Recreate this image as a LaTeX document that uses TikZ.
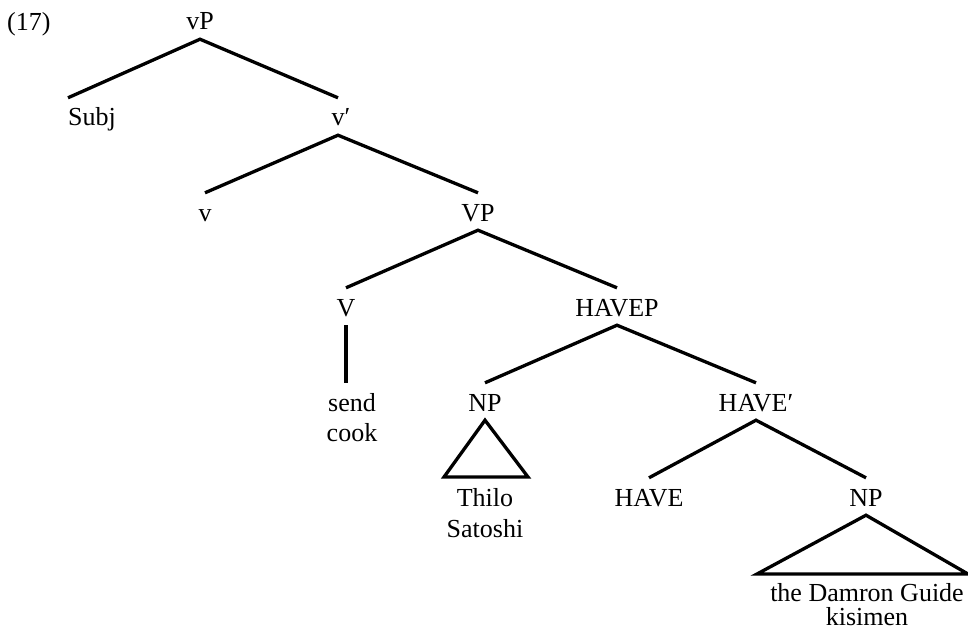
\documentclass[tikz,border=0pt]{standalone}
\usepackage{fontspec}
\setmainfont{Liberation Serif}
\begin{document}
\begin{tikzpicture}[x=1pt,y=-1pt,
  lab/.style={anchor=base, inner xsep=0pt, inner ysep=9pt, text height=19pt, text depth=0pt,
    font=\fontsize{26}{30}\selectfont},
  plain/.style={anchor=base, inner sep=0pt, font=\fontsize{26}{30}\selectfont},
  br/.style={line width=3.3pt},
]
\useasboundingbox (0,0) rectangle (968,631);
\node[plain, anchor=base west] (ex) at (7,31) {(17)};
\node[lab] (vP) at (200,30) {vP};
\node[lab, anchor=base west] (subj) at (68,126) {Subj};
\node[lab] (vbar) at (338,126) {v\rlap{′}};
\node[lab] (v) at (205,221) {v};
\node[lab] (VP) at (478,221) {VP};
\node[lab] (V) at (346,316) {V};
\node[lab] (havep) at (617,316) {HAVEP};
\node[lab] (send) at (352,411) {send};
\node[plain] (cook) at (352,441) {cook};
\node[lab] (np1) at (485,411) {NP};
\node[lab] (havebar) at (756,411) {HAVE′};
\node[lab] (thilo) at (485,506) {Thilo};
\node[plain] (satoshi) at (485,537) {Satoshi};
\node[lab] (have) at (649,506) {HAVE};
\node[lab] (np2) at (866,506) {NP};
\node[lab] (damron) at (867,601) {the Damron Guide};
\node[plain] (kisimen) at (867,625) {kisimen};
\coordinate (t1l) at (444,477);
\coordinate (t1r) at (528,477);
\coordinate (t2l) at (757,574);
\coordinate (t2r) at (968,574);

\draw[br] (subj.north west) -- (vP.south) -- (vbar.north);
\draw[br] (v.north) -- (vbar.south) -- (VP.north);
\draw[br] (V.north) -- (VP.south) -- (havep.north);
\draw[br] (V.south) -- (V.south |- send.north);
\draw[br] (np1.north) -- (havep.south) -- (havebar.north);
\draw[br] (have.north) -- (havebar.south) -- (np2.north);
\draw[br] (np1.south) -- (t1l) -- (t1r) -- cycle;
\draw[br] (np2.south) -- (t2l) -- (t2r) -- cycle;
\end{tikzpicture}
\end{document}
